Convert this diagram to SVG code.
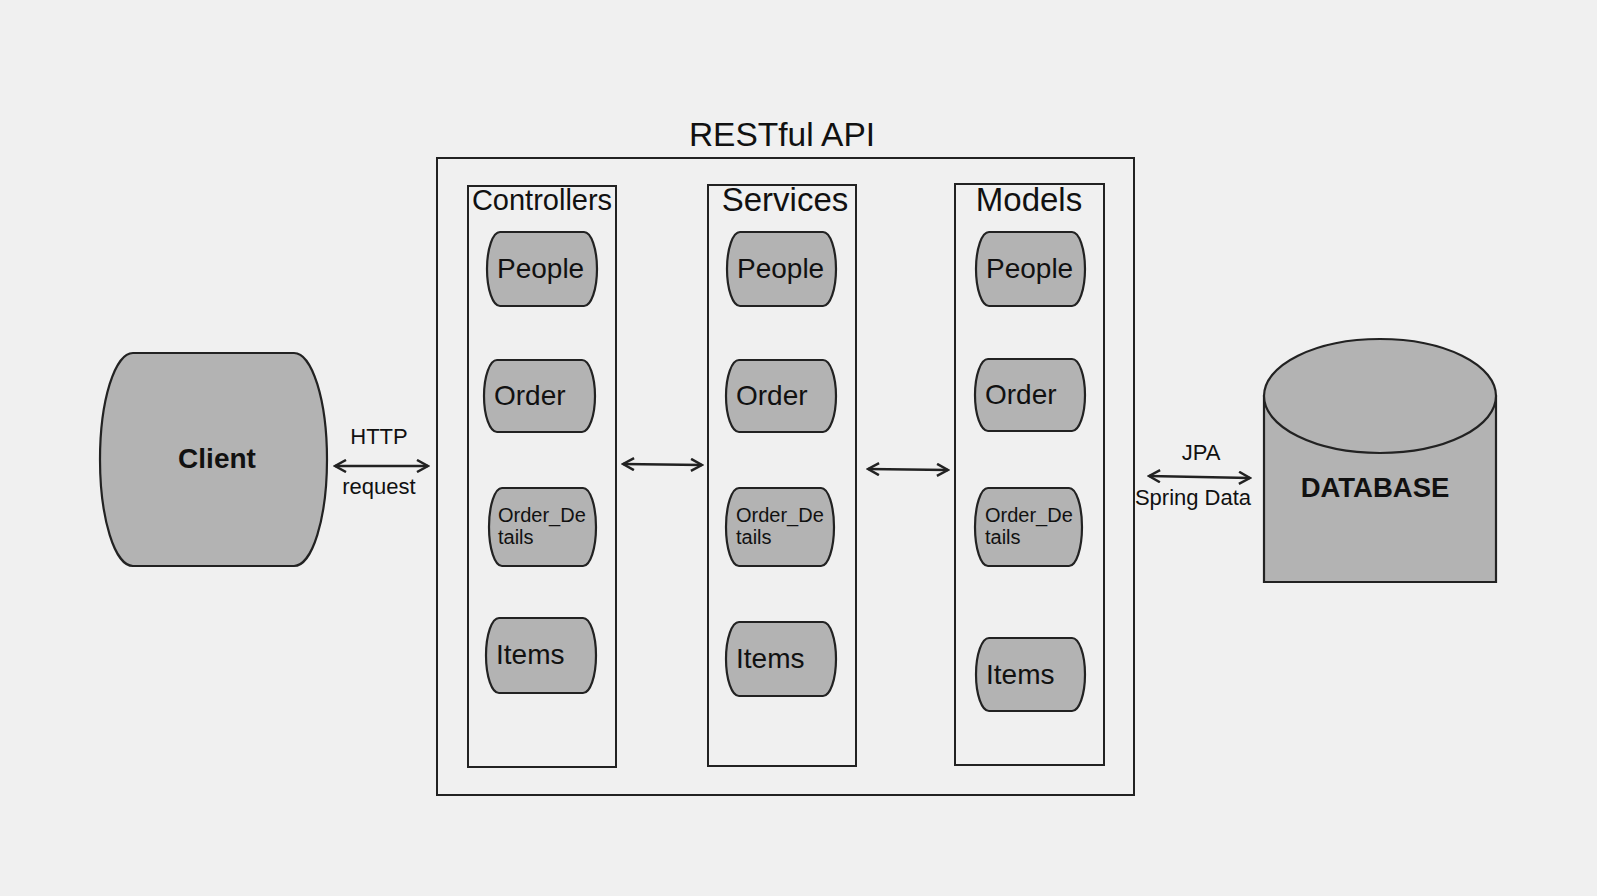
<svg xmlns="http://www.w3.org/2000/svg" width="1597" height="896" viewBox="0 0 1597 896">
<style>
.shape{fill:#b3b3b3;stroke:#222;stroke-width:2.2}
.box{fill:none;stroke:#222;stroke-width:2}
.t{font-family:"Liberation Sans",Arial,sans-serif;fill:#111}
.n{font-size:28px}
.s{font-size:20px}
.e{font-size:22px;text-anchor:middle}
.b{font-weight:bold;text-anchor:middle}
.conn{stroke:#222;stroke-width:2.5;fill:none;marker-start:url(#ah);marker-end:url(#ah)}
</style>
<defs>
<marker id="ah" viewBox="0 0 14 14" refX="12" refY="7" markerWidth="14" markerHeight="14" markerUnits="userSpaceOnUse" orient="auto-start-reverse">
<path d="M1,1 L12,7 L1,13" fill="none" stroke="#222" stroke-width="2.5"/>
</marker>
</defs>
<rect width="1597" height="896" fill="#f0f0f0"/>

<g id="restful-api">
<rect class="box" x="437" y="158" width="697" height="637"/>
<text class="t" x="782" y="146" font-size="33.5" text-anchor="middle">RESTful API</text>
</g>

<g id="controllers">
<rect class="box" x="468" y="186" width="148" height="581"/>
<text class="t" x="542" y="210" font-size="29" text-anchor="middle">Controllers</text>
</g>
<g id="services">
<rect class="box" x="708" y="185" width="148" height="581"/>
<text class="t" x="785" y="211" font-size="33" text-anchor="middle">Services</text>
</g>
<g id="models">
<rect class="box" x="955" y="184" width="149" height="581"/>
<text class="t" x="1029" y="211" font-size="33" text-anchor="middle">Models</text>
</g>

<g id="client">
<path class="shape" d="M133,353 H294 A33,106.5 0 0 1 294,566 H133 A33,106.5 0 0 1 133,353 Z"/>
<text class="t b" x="217" y="468" font-size="28">Client</text>
</g>

<g id="database">
<path class="shape" d="M1264,396 V582 H1496 V396 Z"/>
<ellipse class="shape" cx="1380" cy="396" rx="116" ry="57"/>
<text class="t b" x="1375" y="497" font-size="27.5">DATABASE</text>
</g>

<g id="c-people"><path class="shape" d="M500,232 H584 A13,37 0 0 1 584,306 H500 A13,37 0 0 1 500,232 Z"/><text class="t n" x="497" y="278">People</text></g>
<g id="c-order"><path class="shape" d="M497,360 H582 A13,36 0 0 1 582,432 H497 A13,36 0 0 1 497,360 Z"/><text class="t n" x="494" y="405">Order</text></g>
<g id="c-order-details"><path class="shape" d="M502,488 H583 A13,39 0 0 1 583,566 H502 A13,39 0 0 1 502,488 Z"/><text class="t s" x="498" y="522">Order_De</text><text class="t s" x="498" y="544">tails</text></g>
<g id="c-items"><path class="shape" d="M499,618 H583 A13,37.5 0 0 1 583,693 H499 A13,37.5 0 0 1 499,618 Z"/><text class="t n" x="496" y="664">Items</text></g>

<g id="s-people"><path class="shape" d="M740,232 H823 A13,37 0 0 1 823,306 H740 A13,37 0 0 1 740,232 Z"/><text class="t n" x="737" y="278">People</text></g>
<g id="s-order"><path class="shape" d="M739,360 H823 A13,36 0 0 1 823,432 H739 A13,36 0 0 1 739,360 Z"/><text class="t n" x="736" y="405">Order</text></g>
<g id="s-order-details"><path class="shape" d="M739,488 H821 A13,39 0 0 1 821,566 H739 A13,39 0 0 1 739,488 Z"/><text class="t s" x="736" y="522">Order_De</text><text class="t s" x="736" y="544">tails</text></g>
<g id="s-items"><path class="shape" d="M739,622 H823 A13,37 0 0 1 823,696 H739 A13,37 0 0 1 739,622 Z"/><text class="t n" x="736" y="668">Items</text></g>

<g id="m-people"><path class="shape" d="M989,232 H1072 A13,37 0 0 1 1072,306 H989 A13,37 0 0 1 989,232 Z"/><text class="t n" x="986" y="278">People</text></g>
<g id="m-order"><path class="shape" d="M988,359 H1072 A13,36 0 0 1 1072,431 H988 A13,36 0 0 1 988,359 Z"/><text class="t n" x="985" y="404">Order</text></g>
<g id="m-order-details"><path class="shape" d="M988,488 H1069 A13,39 0 0 1 1069,566 H988 A13,39 0 0 1 988,488 Z"/><text class="t s" x="985" y="522">Order_De</text><text class="t s" x="985" y="544">tails</text></g>
<g id="m-items"><path class="shape" d="M989,638 H1072 A13,36.5 0 0 1 1072,711 H989 A13,36.5 0 0 1 989,638 Z"/><text class="t n" x="986" y="684">Items</text></g>

<g id="connectors">
<line class="conn" x1="335" y1="466" x2="428" y2="466"/>
<line class="conn" x1="623" y1="464" x2="702" y2="465"/>
<line class="conn" x1="868" y1="469" x2="948" y2="470"/>
<line class="conn" x1="1149" y1="476" x2="1250" y2="478"/>
<text class="t e" x="379" y="444">HTTP</text>
<text class="t e" x="379" y="494">request</text>
<text class="t e" x="1201" y="460">JPA</text>
<text class="t e" x="1193" y="505">Spring Data</text>
</g>
</svg>
